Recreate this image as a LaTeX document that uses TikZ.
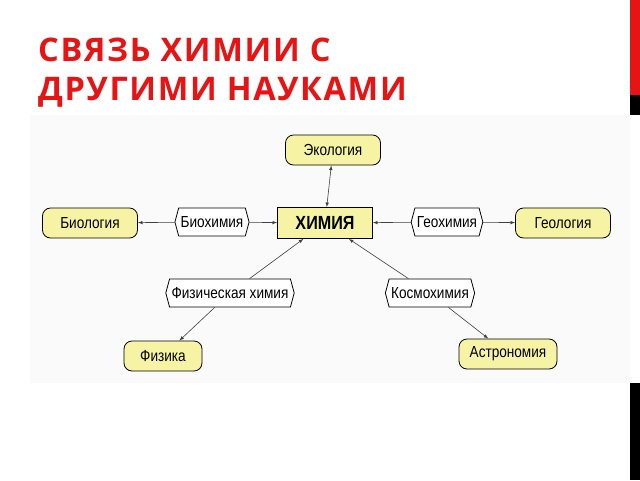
\documentclass[tikz,border=0pt]{standalone}
\usepackage{fontspec}
\setmainfont{Liberation Sans}
\newfontfamily\titlefont[LetterSpace=5]{Open Sans}
\newfontfamily\diagfont[FakeStretch=0.85]{Liberation Sans}
\usetikzlibrary{shapes.symbols}
\definecolor{slidered}{RGB}{230,20,20}
\definecolor{sciyellow}{RGB}{246,244,164}

\tikzset{
  science/.style={draw, thick, rounded corners=8pt, fill=sciyellow, minimum width=#1, minimum height=30pt, font=\diagfont\fontsize{16}{18}\selectfont},
  link/.style={draw, thick, fill=white, shape=signal, signal to=west and east, signal pointer angle=150, minimum height=28pt, inner xsep=2pt, font=\diagfont\fontsize{16}{18}\selectfont},
  con/.style={->, >=latex, draw=black!75, semithick}
}

\begin{document}
\begin{tikzpicture}[x=1pt, y=-1pt]

\useasboundingbox (0,0) rectangle (640,480);
\fill[white] (0,0) rectangle (640,480);

% right strip
\fill[slidered] (630,0) rectangle (640,95);
\fill[black] (630,95) rectangle (640,115);
\fill[black] (630,383) rectangle (640,480);
\fill[black!2] (30,115) rectangle (630,383);

\node[anchor=base west, inner sep=0pt, text=slidered, font=\titlefont\bfseries\fontsize{32.5}{39}\selectfont, align=left] (title) at (38,100) {СВЯЗЬ ХИМИИ С\\ДРУГИМИ НАУКАМИ};

\node[draw, thick, fill=sciyellow, minimum width=95pt, minimum height=31pt, font=\diagfont\bfseries\fontsize{19}{21}\selectfont] (chem) at (325,223) {ХИМИЯ};

\node[science=95pt] (eco) at (333,150) {Экология};
\node[science=95pt] (bio) at (90,223) {Биология};
\node[science=95pt] (geo) at (563,223) {Геология};
\node[science=78pt] (phys) at (163,356) {Физика};
\node[science=98pt] (astro) at (508,354) {Астрономия};

\node[link] (biochem) at (212,222) {Биохимия};
\node[link] (geochem) at (447,222) {Геохимия};
\node[link] (physchem) at (230,293) {Физическая химия};
\node[link] (cosmo) at (430,293) {Космохимия};

\draw[con, <->] (chem) -- (eco);
\draw[con] (biochem) -- (bio);
\draw[con] (biochem) -- (chem);
\draw[con] (geochem) -- (geo);
\draw[con] (geochem) -- (chem);
\draw[con] (physchem) -- (chem);
\draw[con] (physchem) -- (phys);
\draw[con] (cosmo) -- (chem);
\draw[con] (cosmo) -- (astro);

\end{tikzpicture}
\end{document}
